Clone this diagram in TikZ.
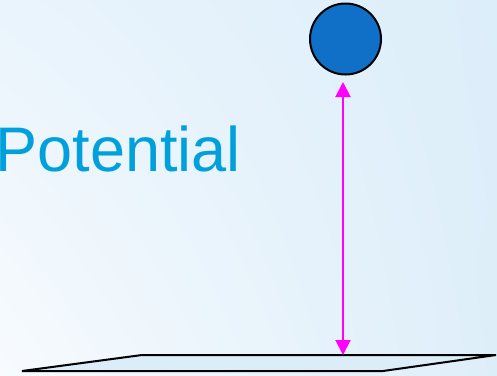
\documentclass[tikz,border=0pt]{standalone}
\usepackage{fontspec}
\setmainfont{Liberation Sans}
\usetikzlibrary{arrows.meta,calc,shadings}
\definecolor{BallClr}{RGB}{16,112,200}
\definecolor{WordClr}{RGB}{0,160,220}
\definecolor{PlateClr}{RGB}{218,237,248}
\definecolor{LiftClr}{RGB}{255,0,255}
\definecolor{BgUL}{RGB}{234,244,252}
\definecolor{BgUR}{RGB}{220,238,250}
\definecolor{BgLL}{RGB}{247,251,254}
\definecolor{BgLR}{RGB}{222,238,249}

\tikzset{
  ball/.style={circle,draw=black,line width=2pt,fill=BallClr,minimum size=71pt,inner sep=0pt},
  word/.style={text=WordClr,inner sep=0pt,font=\fontsize{63}{63}\selectfont},
  plate/.style={draw=black,line width=2pt,fill=PlateClr,line join=miter},
  lift/.style={draw=LiftClr,line width=2pt,{Triangle[width=15pt,length=15pt]}-{Triangle[width=15pt,length=15pt]}}
}

\begin{document}
\begin{tikzpicture}[x=1pt,y=-1pt]
\useasboundingbox (0,0) rectangle (497,375);
\shade[upper left=BgUL,upper right=BgUR,lower left=BgLL,lower right=BgLR] (0,0) rectangle (497,375);

\coordinate (PBL) at (22,371);
\coordinate (PTL) at (142,355);
\coordinate (PTR) at (496,355);
\coordinate (PBR) at (383,371);
\coordinate (H) at (343,355);

\draw[plate] (PBL) -- (PTL) -- (PTR) -- (PBR) -- cycle;

\node[ball] (top) at (345.5,39) {};

\node[word,anchor=base west] (pot) at (-4.5,171) {Potential};

\draw[lift,shorten <=6.5pt] (top.south -| H) -- (H);

\end{tikzpicture}
\end{document}
